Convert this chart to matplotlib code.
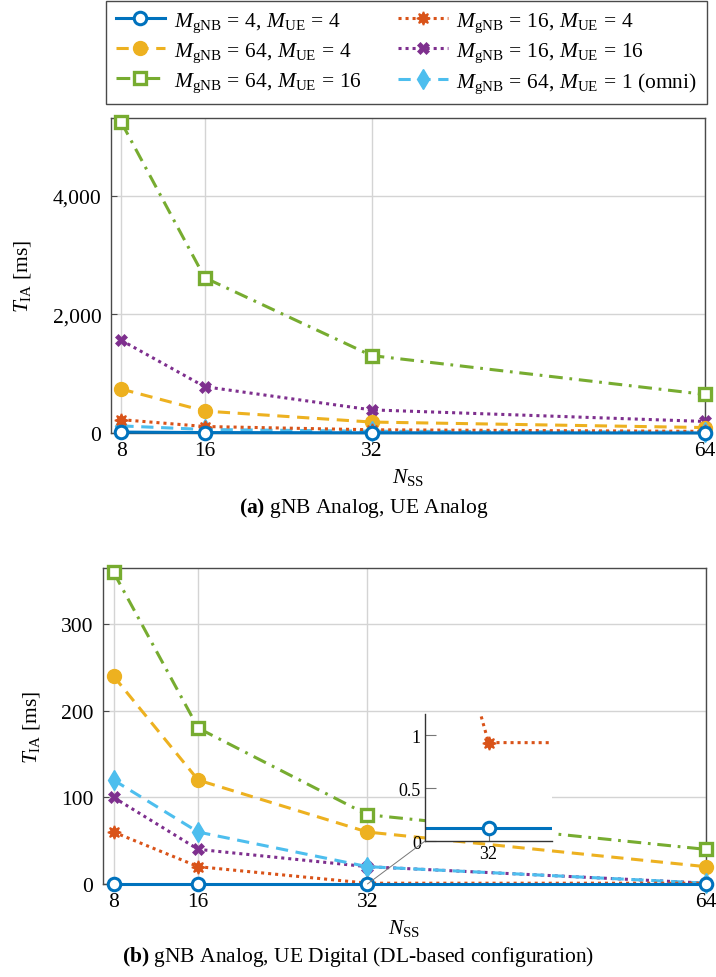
import matplotlib
matplotlib.use("Agg")
import matplotlib.pyplot as plt
from matplotlib.patches import ConnectionPatch
from matplotlib.ticker import FuncFormatter

# ---------------- data ----------------
n_ss = [8, 16, 32, 64]
labels = [
    r"$M_{\mathrm{gNB}}\,=\,4,\,M_{\mathrm{UE}}\,=\,4$",
    r"$M_{\mathrm{gNB}}\,=\,16,\,M_{\mathrm{UE}}\,=\,4$",
    r"$M_{\mathrm{gNB}}\,=\,64,\,M_{\mathrm{UE}}\,=\,4$",
    r"$M_{\mathrm{gNB}}\,=\,16,\,M_{\mathrm{UE}}\,=\,16$",
    r"$M_{\mathrm{gNB}}\,=\,64,\,M_{\mathrm{UE}}\,=\,16$",
    r"$M_{\mathrm{gNB}}\,=\,64,\,M_{\mathrm{UE}}\,=\,1$ (omni)",
]
# (a) gNB Analog, UE Analog
a_4_4 = [16, 8, 4, 2]
a_16_4 = [225, 110, 55, 28]
a_64_4 = [740, 370, 185, 92]
a_16_16 = [1560, 780, 390, 195]
a_64_16 = [5230, 2615, 1305, 650]
a_64_1 = [120, 60, 30, 15]
# (b) gNB Analog, UE Digital
b_4_4 = [0.12, 0.12, 0.12, 0.12]
b_16_4 = [60, 20, 0.93, 0.92]
b_64_4 = [240, 120, 60, 20]
b_16_16 = [100, 40, 20, 1]
b_64_16 = [360, 180, 80, 40]
b_64_1 = [120, 60, 20, 1]

caption_a = "gNB Analog, UE Analog"
caption_b = "gNB Analog, UE Digital (DL-based configuration)"

# ---------------- style ----------------
plt.rcParams["font.family"] = ["Liberation Serif", "DejaVu Serif"]
plt.rcParams["mathtext.fontset"] = "custom"
plt.rcParams["mathtext.rm"] = "Liberation Serif"
plt.rcParams["mathtext.it"] = "Liberation Serif:italic"
plt.rcParams["mathtext.bf"] = "Liberation Serif:bold"
FS = 15.5
TFS = 15.5

C_BLUE = "#0072BD"
C_RED = "#D95319"
C_YEL = "#EDB120"
C_PUR = "#7E2F8E"
C_GRN = "#77AC30"
C_CYA = "#4DBEEE"

DOT = (0, (1.0, 1.3))
DASH = (0, (4.0, 2.5))
DASHDOT = (0, (4.5, 2.2, 0.9, 2.2))

styles = [
    dict(color=C_BLUE, ls="-", lw=2.2, marker="o", ms=9, mfc="white", mec=C_BLUE, mew=2.2),
    dict(color=C_RED, ls=DOT, lw=2.2, marker=(8, 1, 0), ms=9.5, mfc=C_RED, mec=C_RED, mew=1.2),
    dict(color=C_YEL, ls=DASH, lw=2.2, marker="o", ms=10, mfc=C_YEL, mec=C_YEL, mew=1),
    dict(color=C_PUR, ls=DOT, lw=2.2, marker="X", ms=8, mfc=C_PUR, mec=C_PUR, mew=0.5),
    dict(color=C_GRN, ls=DASHDOT, lw=2.2, marker="s", ms=8.5, mfc="white", mec=C_GRN, mew=2.4),
    dict(color=C_CYA, ls=DASH, lw=2.2, marker="d", ms=10, mfc=C_CYA, mec=C_CYA, mew=1),
]

SPINE = "#4a4a4a"
GRID = "#d4d4d4"

fig = plt.figure(figsize=(7.16, 9.78), dpi=100)
fig.patch.set_facecolor("white")

ax1 = fig.add_axes([0.155, 0.5562, 0.8296, 0.3218])
ax2 = fig.add_axes([0.1439, 0.0951, 0.842, 0.3231])


def style_axes(ax):
    for s in ax.spines.values():
        s.set_color(SPINE)
        s.set_linewidth(1.0)
    ax.grid(True, color=GRID, lw=1.0)
    ax.set_axisbelow(True)
    ax.tick_params(direction="in", length=4, color=SPINE, labelsize=TFS)
    ax.tick_params(axis="x", pad=6)
    ax.tick_params(axis="y", pad=7)
    ax.set_xlim(7, 64)
    ax.set_xticks(n_ss)
    ax.set_xticklabels([str(v) for v in n_ss])
    ax.set_xlabel(r"$N_{\mathrm{SS}}$", fontsize=FS, labelpad=4)
    ax.set_ylabel(r"$T_{\mathrm{IA}}$ [ms]", fontsize=FS)


series_a = [a_4_4, a_16_4, a_64_4, a_16_16, a_64_16, a_64_1]
series_b = [b_4_4, b_16_4, b_64_4, b_16_16, b_64_16, b_64_1]

handles = [None] * 6
for i in [4, 3, 2, 5, 1, 0]:
    h, = ax1.plot(n_ss, series_a[i], clip_on=False, zorder=3, **styles[i])
    handles[i] = h
for i in [4, 3, 2, 5, 1, 0]:
    ax2.plot(n_ss, series_b[i], clip_on=False, zorder=3, **styles[i])

style_axes(ax1)
style_axes(ax2)
ax1.set_ylim(0, 5300)
ax1.set_yticks([0, 2000, 4000])
ax1.yaxis.set_major_formatter(FuncFormatter(lambda v, p: f"{int(v):,}"))
ax2.set_ylim(0, 365)
ax2.set_yticks([0, 100, 200, 300])
ax1.yaxis.set_label_coords(-0.131, 0.5)
ax2.yaxis.set_label_coords(-0.101, 0.5)

# captions
fig.text(0.508, 1 - 508 / 978, r"$\mathbf{(a)}$ " + caption_a, ha="center", va="center", fontsize=FS)
fig.text(0.50, 1 - 957 / 978, r"$\mathbf{(b)}$ " + caption_b, ha="center", va="center", fontsize=FS)

# legend (row-wise fill like the reference)
leg_order = [0, 2, 4, 1, 3, 5]
fig.legend([handles[i] for i in leg_order], [labels[i] for i in leg_order],
           ncol=2, loc="upper left", bbox_to_anchor=(0.148, 0.8948, 0.8394, 0.1035),
           mode="expand", fontsize=FS, frameon=True, fancybox=False,
           edgecolor=SPINE, framealpha=1, handlelength=2.3, handletextpad=0.4,
           labelspacing=0.3, borderaxespad=0.0, borderpad=0.45, columnspacing=0.3)

# inset
axins = fig.add_axes([0.5936, 0.139, 0.1774, 0.1299])
axins.set_facecolor("white")
for i in [1, 0]:
    axins.plot(n_ss, series_b[i], **styles[i])
axins.set_xlim(30.2, 33.8)
axins.set_ylim(0, 1.2)
axins.set_xticks([32])
axins.set_yticks([0, 0.5, 1])
axins.set_yticklabels(["0", "0.5", "1"])
axins.spines["top"].set_visible(False)
axins.spines["right"].set_visible(False)
for s in ["left", "bottom"]:
    axins.spines[s].set_color("#333333")
    axins.spines[s].set_linewidth(1.0)
axins.tick_params(direction="in", length=8, color="#777777", labelsize=13, pad=3)

con = ConnectionPatch(xyA=(32, 0), coordsA=ax2.transData,
                      xyB=(0, 0), coordsB=axins.transAxes,
                      color="#777777", lw=0.7)
fig.add_artist(con)

fig.savefig("out.png", dpi=100, facecolor="white")
